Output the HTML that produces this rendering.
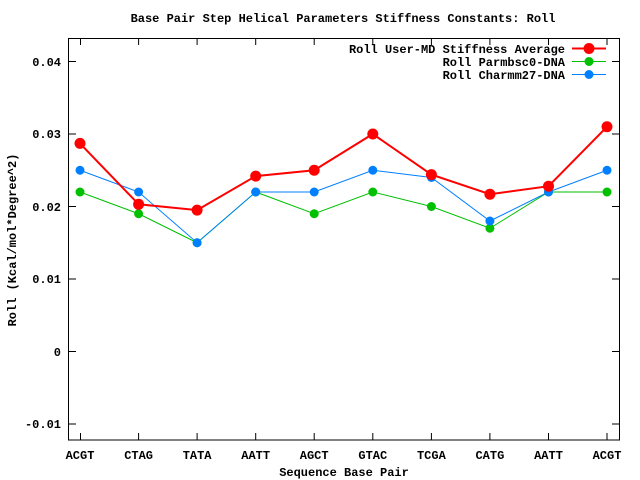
<!DOCTYPE html>
<html><head><style>body{margin:0;background:#fff}svg{display:block}text{font-family:"Liberation Mono",monospace;font-weight:bold;font-size:12px;fill:#000}</style></head><body>
<svg width="640" height="480" xmlns="http://www.w3.org/2000/svg">
<rect x="68.5" y="38.5" width="551" height="401.5" fill="none" stroke="#000" stroke-width="1"/>
<g stroke="#000" stroke-width="1">
<line x1="68.5" y1="61.5" x2="76" y2="61.5"/><line x1="612" y1="61.5" x2="619.5" y2="61.5"/>
<line x1="68.5" y1="134" x2="76" y2="134"/><line x1="612" y1="134" x2="619.5" y2="134"/>
<line x1="68.5" y1="206.5" x2="76" y2="206.5"/><line x1="612" y1="206.5" x2="619.5" y2="206.5"/>
<line x1="68.5" y1="279" x2="76" y2="279"/><line x1="612" y1="279" x2="619.5" y2="279"/>
<line x1="68.5" y1="351.5" x2="76" y2="351.5"/><line x1="612" y1="351.5" x2="619.5" y2="351.5"/>
<line x1="68.5" y1="424" x2="76" y2="424"/><line x1="612" y1="424" x2="619.5" y2="424"/>
<g id="xt">
<line x1="80.5" y1="440" x2="80.5" y2="433"/><line x1="80.5" y1="38.5" x2="80.5" y2="45"/>
<line x1="138.6" y1="440" x2="138.6" y2="433"/><line x1="138.6" y1="38.5" x2="138.6" y2="45"/>
<line x1="197.1" y1="440" x2="197.1" y2="433"/><line x1="197.1" y1="38.5" x2="197.1" y2="45"/>
<line x1="255.7" y1="440" x2="255.7" y2="433"/><line x1="255.7" y1="38.5" x2="255.7" y2="45"/>
<line x1="314.2" y1="440" x2="314.2" y2="433"/><line x1="314.2" y1="38.5" x2="314.2" y2="45"/>
<line x1="372.8" y1="440" x2="372.8" y2="433"/><line x1="372.8" y1="38.5" x2="372.8" y2="45"/>
<line x1="431.4" y1="440" x2="431.4" y2="433"/><line x1="431.4" y1="38.5" x2="431.4" y2="45"/>
<line x1="489.9" y1="440" x2="489.9" y2="433"/><line x1="489.9" y1="38.5" x2="489.9" y2="45"/>
<line x1="548.5" y1="440" x2="548.5" y2="433"/><line x1="548.5" y1="38.5" x2="548.5" y2="45"/>
<line x1="607" y1="440" x2="607" y2="433"/><line x1="607" y1="38.5" x2="607" y2="45"/>
</g></g>
<g text-anchor="end">
<text x="61" y="66">0.04</text><text x="61" y="138">0.03</text><text x="61" y="211">0.02</text>
<text x="61" y="283">0.01</text><text x="61" y="356">0</text><text x="61" y="428">-0.01</text>
</g>
<g text-anchor="middle">
<text x="80" y="459">ACGT</text><text x="138.6" y="459">CTAG</text><text x="197.1" y="459">TATA</text>
<text x="255.7" y="459">AATT</text><text x="314.2" y="459">AGCT</text><text x="372.8" y="459">GTAC</text>
<text x="431.4" y="459">TCGA</text><text x="489.9" y="459">CATG</text><text x="548.5" y="459">AATT</text>
<text x="607" y="459">ACGT</text>
<text x="344" y="476">Sequence Base Pair</text>
<text x="343" y="22">Base Pair Step Helical Parameters Stiffness Constants: Roll</text>
<text transform="translate(16,240) rotate(-90)">Roll (Kcal/mol*Degree^2)</text>
</g>
<g text-anchor="end">
<text x="565" y="53">Roll User-MD Stiffness Average</text>
<text x="565" y="66">Roll Parmbsc0-DNA</text>
<text x="565" y="79">Roll Charmm27-DNA</text>
</g>
<polyline fill="none" stroke="#00c000" stroke-width="1" points="80,192 138.6,213.75 197.1,242.75 255.7,192 314.2,213.75 372.8,192 431.4,206.5 489.9,228.25 548.5,192 607,192"/>
<polyline fill="none" stroke="#0080ff" stroke-width="1" points="80,170.25 138.6,192 197.1,242.75 255.7,192 314.2,192 372.8,170.25 431.4,177.5 489.9,221 548.5,192 607,170.25"/>
<polyline fill="none" stroke="#ff0000" stroke-width="2" points="80,143.4 138.6,204.3 197.1,210.1 255.7,176.1 314.2,170.25 372.8,134 431.4,174.6 489.9,194.2 548.5,186.2 607,126.75"/>
<g fill="#00c000"><circle cx="80" cy="192" r="4.5"/><circle cx="138.6" cy="213.75" r="4.5"/><circle cx="197.1" cy="242.75" r="4.5"/><circle cx="255.7" cy="192" r="4.5"/><circle cx="314.2" cy="213.75" r="4.5"/><circle cx="372.8" cy="192" r="4.5"/><circle cx="431.4" cy="206.5" r="4.5"/><circle cx="489.9" cy="228.25" r="4.5"/><circle cx="548.5" cy="192" r="4.5"/><circle cx="607" cy="192" r="4.5"/></g>
<g fill="#0080ff"><circle cx="80" cy="170.25" r="4.5"/><circle cx="138.6" cy="192" r="4.5"/><circle cx="197.1" cy="242.75" r="4.5"/><circle cx="255.7" cy="192" r="4.5"/><circle cx="314.2" cy="192" r="4.5"/><circle cx="372.8" cy="170.25" r="4.5"/><circle cx="431.4" cy="177.5" r="4.5"/><circle cx="489.9" cy="221" r="4.5"/><circle cx="548.5" cy="192" r="4.5"/><circle cx="607" cy="170.25" r="4.5"/></g>
<g fill="#ff0000"><circle cx="80" cy="143.4" r="5.5"/><circle cx="138.6" cy="204.3" r="5.5"/><circle cx="197.1" cy="210.1" r="5.5"/><circle cx="255.7" cy="176.1" r="5.5"/><circle cx="314.2" cy="170.25" r="5.5"/><circle cx="372.8" cy="134" r="5.5"/><circle cx="431.4" cy="174.6" r="5.5"/><circle cx="489.9" cy="194.2" r="5.5"/><circle cx="548.5" cy="186.2" r="5.5"/><circle cx="607" cy="126.75" r="5.5"/></g>
<line x1="572" y1="48.5" x2="606" y2="48.5" stroke="#ff0000" stroke-width="2"/><circle cx="589" cy="48.5" r="5.5" fill="#ff0000"/>
<line x1="572" y1="61.5" x2="606" y2="61.5" stroke="#00c000"/><circle cx="589" cy="61.5" r="4.5" fill="#00c000"/>
<line x1="572" y1="74.5" x2="606" y2="74.5" stroke="#0080ff"/><circle cx="589" cy="74.5" r="4.5" fill="#0080ff"/>
</svg>
</body></html>
